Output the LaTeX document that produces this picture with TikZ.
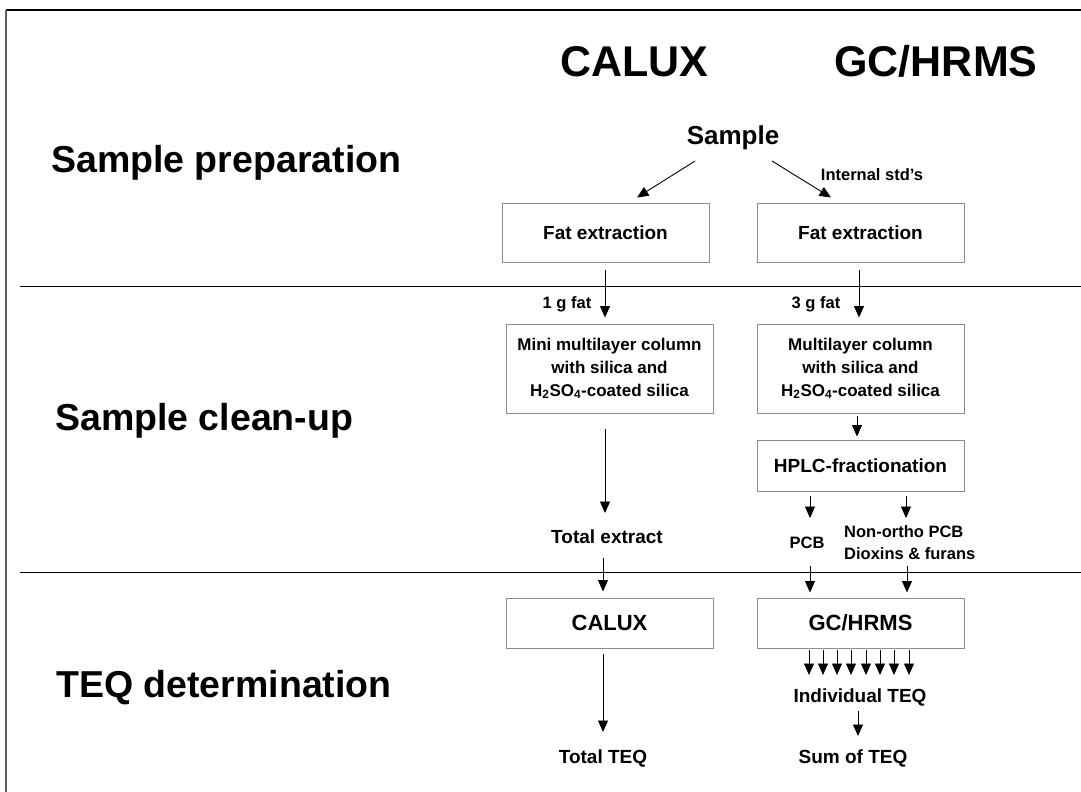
\documentclass[tikz,border=0pt]{standalone}
\usepackage{fontspec}
\setmainfont{Liberation Sans}
\usetikzlibrary{arrows.meta}
\definecolor{boxgray}{RGB}{140,140,140}
\definecolor{edgegray}{RGB}{95,95,95}
\newcommand\setfs[2]{\fontsize{#1pt}{#2pt}\selectfont}
\begin{document}
\begin{tikzpicture}[x=1pt,y=-1pt,
  every node/.style={inner sep=0pt},
  arr/.style={line width=0.9pt,-{Triangle[length=11.5pt,width=10pt]}},
  flowbox/.style={draw=boxgray,line width=1pt,minimum width=207pt,align=center},
  header/.style={font=\bfseries\setfs{43}{50},anchor=base},
  section/.style={font=\bfseries\setfs{37.5}{44},anchor=base west},
  small/.style={font=\bfseries\setfs{16.5}{22}},
  mid/.style={font=\bfseries\setfs{19}{23}}]
\useasboundingbox (0,0) rectangle (1081,792);
\fill[white] (0,0) rectangle (1081,792);
% frame
\draw[line width=1.3pt] (6,10) -- (1081,10);
\draw[edgegray,line width=2pt] (6,10) -- (6,792);
% dividers
\draw[line width=1pt] (20,286) -- (1081,286);
\draw[line width=1pt] (20,572) -- (1081,572);
% headers and sections
\node[header] (hcalux) at (634.5,76) {CALUX};
\node[header] (hgc) at (936,76) {GC/HRMS};
\node[section] (sprep) at (51,172) {Sample preparation};
\node[section] (sclean) at (55,430) {Sample clean-up};
\node[section] (steq) at (56,697) {TEQ determination};
% nodes
\node[font=\bfseries\setfs{26}{30},anchor=base] (sample) at (733,144) {Sample};
\node[small,anchor=base] (intstd) at (872,180) {Internal std’s};
\node[flowbox,mid,minimum height=59pt] (fatL) at (605.5,232.5) {Fat extraction};
\node[flowbox,mid,minimum height=59pt] (fatR) at (860.5,232.5) {Fat extraction};
\node[small,anchor=base] (g1) at (567,308) {1 g fat};
\node[small,anchor=base] (g3) at (816,308) {3 g fat};
\node[flowbox,font=\bfseries\setfs{17}{23},minimum height=89pt] (miniL) at (609.5,368.5)
  {Mini multilayer column\\with silica and\\H\textsubscript{2}SO\textsubscript{4}-coated silica};
\node[flowbox,font=\bfseries\setfs{17}{23},minimum height=89pt] (multiR) at (860.5,368.5)
  {Multilayer column\\with silica and\\H\textsubscript{2}SO\textsubscript{4}-coated silica};
\node[flowbox,mid,minimum height=51pt] (hplc) at (860.5,465.5) {HPLC-fractionation};
\node[mid,anchor=base] (totext) at (607,543) {Total extract};
\node[small,anchor=base] (pcb) at (807,548) {PCB};
\node[small,anchor=north west,align=left] (nonortho) at (844,525) {Non-ortho PCB\\Dioxins \& furans};
\node[flowbox,font=\bfseries\setfs{22}{26},minimum height=50pt] (caluxbox) at (609.5,623) {CALUX};
\node[flowbox,font=\bfseries\setfs{22}{26},minimum height=50pt] (gcbox) at (860.5,623) {GC/HRMS};
\node[mid,anchor=base] (totteq) at (603,763) {Total TEQ};
\node[mid,anchor=base] (indiv) at (860,702) {Individual TEQ};
\node[mid,anchor=base] (sumteq) at (853,763) {Sum of TEQ};
% connectors
\draw[arr] ([xshift=-38pt,yshift=-17pt]sample.base) -- ([xshift=31.5pt,yshift=5pt]fatL.north);
\draw[arr] ([xshift=39pt,yshift=-17pt]sample.base) -- ([xshift=-29.5pt,yshift=5pt]fatR.north);
\draw[arr] ([xshift=-0.5pt,yshift=-7pt]fatL.south) -- ([xshift=-4.5pt,yshift=6pt]miniL.north);
\draw[arr] ([xshift=-1.5pt,yshift=-7pt]fatR.south) -- ([xshift=-1.5pt,yshift=6pt]multiR.north);
\draw[arr] ([xshift=-3.5pt,yshift=-2pt]multiR.south) -- ([xshift=-3.5pt,yshift=3pt]hplc.north);
\draw[arr] ([xshift=-4.5pt,yshift=-15pt]miniL.south) -- ([xshift=-2pt,yshift=30pt]totext.base);
\draw[arr] ([xshift=-50.5pt,yshift=-4pt]hplc.south) -- ([xshift=3pt,yshift=30pt]pcb.base);
\draw[arr] ([xshift=45.5pt,yshift=-4pt]hplc.south) -- ([xshift=62pt,yshift=7pt]nonortho.north west);
\draw[arr] ([xshift=-4pt,yshift=-15pt]totext.base) -- ([xshift=-6.5pt,yshift=6pt]caluxbox.north);
\draw[arr] ([xshift=3pt,yshift=-18pt]pcb.base) -- ([xshift=-50.5pt,yshift=5pt]gcbox.north);
\draw[arr] ([xshift=63pt,yshift=-41pt]nonortho.north west) -- ([xshift=46.5pt,yshift=5pt]gcbox.north);
\draw[arr] ([xshift=-6.5pt,yshift=-5pt]caluxbox.south) -- ([yshift=31pt]totteq.base);
\foreach \d in {-51.5,-37.5,-23.5,-9.5,5.5,19.5,33.5,48.5}
  \draw[arr] ([xshift=\d pt,yshift=-1pt]gcbox.south) -- ([xshift=\d pt+0.5pt,yshift=27pt]indiv.base);
\draw[arr] ([xshift=-2pt,yshift=-9pt]indiv.base) -- ([xshift=5pt,yshift=27pt]sumteq.base);
\end{tikzpicture}
\end{document}
